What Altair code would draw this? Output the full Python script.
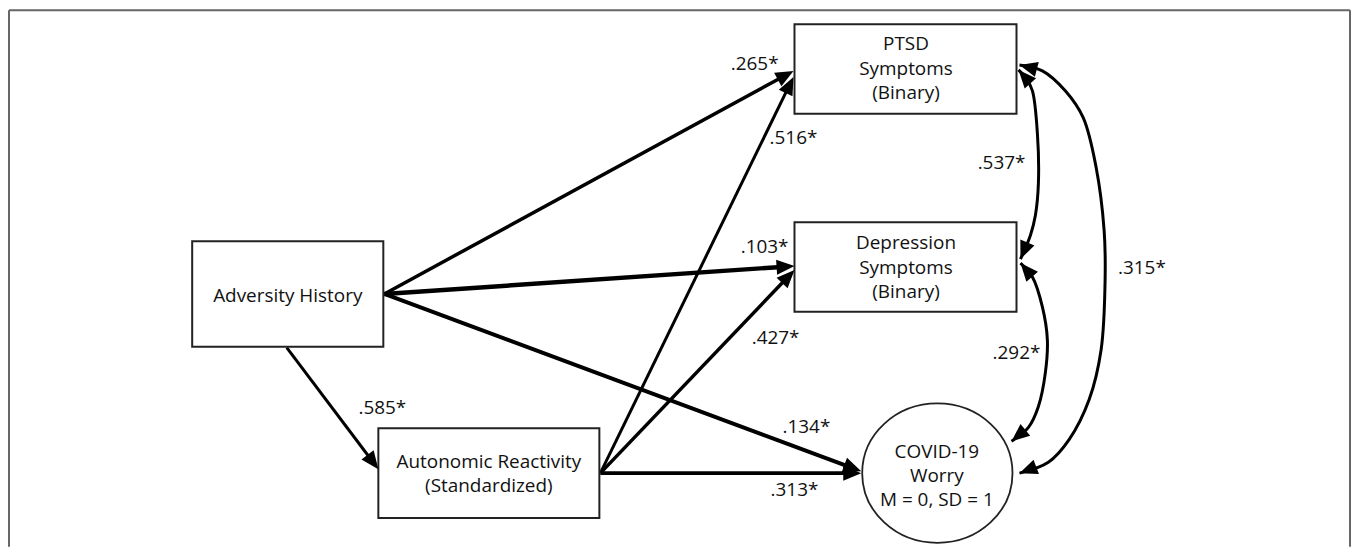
import altair as alt
import pandas as pd
import numpy as np

# ---------------- data (page pixel positions of the diagram) ----------------
# rectangular nodes
box_x0 = [193, 380, 798, 798]
box_x1 = [385, 602, 1021, 1021]
box_y0 = [241, 429, 23, 222]
box_y1 = [347, 519, 113, 312]

# elliptical node (COVID-19 Worry)
ell_cx = [941.5]
ell_cy = [474]
ell_rx = 75.5
ell_ry = 70

# node text lines
node_text = ["Adversity History",
             "Autonomic Reactivity", "(Standardized)",
             "PTSD", "Symptoms", "(Binary)",
             "Depression", "Symptoms", "(Binary)",
             "COVID-19", "Worry", "M = 0, SD = 1"]
node_tx = [289, 491, 491, 910, 910, 910, 910, 910, 910, 941, 941, 941]
node_ty = [296, 463, 487, 43, 68, 92, 243, 268, 292, 453, 477, 501]

# straight directed paths
edge_x0 = [386, 386, 386, 288, 603, 603, 603]
edge_y0 = [294, 294, 294, 348, 474, 474, 474]
edge_x1 = [797, 798, 865, 380, 797, 798, 865]
edge_y1 = [70, 266, 472, 470, 76, 270, 474]
edge_w = [3.5, 4.5, 4, 3, 3, 3.5, 4]

# path coefficients
coef_text = [".265*", ".516*", ".537*", ".103*", ".315*", ".427*",
             ".292*", ".585*", ".134*", ".313*"]
coef_x = [758, 797, 1006, 768, 1147, 779, 1021, 384, 810, 798]
coef_y = [63, 137, 163, 247, 268, 338, 353, 409, 428, 491]

# curved (two-headed) correlation paths
curve_537_x = [1023, 1031, 1037, 1042, 1043, 1040, 1035, 1025]
curve_537_y = [69, 78, 90, 133, 183, 215, 235, 259]
curve_292_x = [1025, 1037, 1047, 1052, 1050, 1043, 1033, 1016]
curve_292_y = [263, 277, 307, 340, 373, 407, 428, 442]
curve_315_x = [1024, 1047, 1070, 1088, 1101, 1109, 1110, 1106, 1094, 1074, 1053, 1024]
curve_315_y = [64, 70, 90, 117, 167, 230, 280, 350, 400, 440, 463, 474]

# outer frame (left, top, right)
frame_x0 = [9, 9, 1356]
frame_x1 = [9, 1356, 1356]
frame_y0 = [9, 9, 9]
frame_y1 = [548, 9, 548]

# ---------------- chart ----------------
W, H = 1350, 540
xs = alt.Scale(domain=[8, 8 + W], nice=False, zero=False)
ys = alt.Scale(domain=[8, 8 + H], nice=False, zero=False, reverse=True)
INK = "#000000"
FONT = "Open Sans"
FS = 19
ARROW = "M0,-1L0.85,1L-0.85,1Z"
AH = 18  # arrowhead length in px
ELL = "M-1,0A1,{r},0,1,1,1,0A1,{r},0,1,1,-1,0Z".format(r=round(ell_ry / ell_rx, 4))


def X(f="x"):
    return alt.X(f + ":Q", scale=xs, axis=None)


def Y(f="y"):
    return alt.Y(f + ":Q", scale=ys, axis=None)


# arrowheads
heads = []
edges = []
for i in range(len(edge_x0)):
    dx, dy = edge_x1[i] - edge_x0[i], edge_y1[i] - edge_y0[i]
    L = np.hypot(dx, dy)
    ux, uy = dx / L, dy / L
    cx, cy = edge_x1[i] - ux * AH / 2, edge_y1[i] - uy * AH / 2
    heads.append({"x": cx, "y": cy, "angle": float(np.degrees(np.arctan2(dx, -dy)) % 360)})
    edges.append({"x": edge_x0[i], "y": edge_y0[i], "x2": cx, "y2": cy, "w": edge_w[i]})

curve_rows = []
for cid, (cxs, cys) in enumerate([(curve_537_x, curve_537_y),
                                  (curve_292_x, curve_292_y),
                                  (curve_315_x, curve_315_y)]):
    for j, (a, b) in enumerate(zip(cxs, cys)):
        curve_rows.append({"id": cid, "i": j, "x": a, "y": b})
    for (p0, p1) in [(0, 1), (len(cxs) - 1, len(cxs) - 2)]:
        dx, dy = cxs[p0] - cxs[p1], cys[p0] - cys[p1]
        L = np.hypot(dx, dy)
        heads.append({"x": cxs[p0] - dx / L * AH / 2, "y": cys[p0] - dy / L * AH / 2,
                      "angle": float(np.degrees(np.arctan2(dx, -dy)) % 360)})

frame = alt.Chart(pd.DataFrame({"x": frame_x0, "x2": frame_x1, "y": frame_y0, "y2": frame_y1})).mark_rule(
    color="#666666", strokeWidth=2).encode(x=X(), x2="x2:Q", y=Y(), y2="y2:Q")

edge_layer = alt.Chart(pd.DataFrame(edges)).mark_rule(color=INK, strokeCap="butt").encode(
    x=X(), x2="x2:Q", y=Y(), y2="y2:Q", strokeWidth=alt.StrokeWidth("w:Q", scale=None))

curve_layer = alt.Chart(pd.DataFrame(curve_rows)).mark_line(
    color=INK, strokeWidth=3, interpolate="catmull-rom").encode(
    x=X(), y=Y(), detail="id:N", order="i:Q")

boxes = alt.Chart(pd.DataFrame({"x": box_x0, "x2": box_x1, "y": box_y0, "y2": box_y1})).mark_rect(
    fill="white", stroke="#222222", strokeWidth=2).encode(x=X(), x2="x2:Q", y=Y(), y2="y2:Q")

ellipse = alt.Chart(pd.DataFrame({"x": ell_cx, "y": ell_cy})).mark_point(
    shape=ELL, size=(2 * ell_rx) ** 2, filled=True, fill="white", stroke="#222222",
    strokeWidth=1.8, opacity=1).encode(x=X(), y=Y())

head_layer = alt.Chart(pd.DataFrame(heads)).mark_point(
    shape=ARROW, size=AH ** 2, filled=True, color="#000000", opacity=1, strokeWidth=0).encode(
    x=X(), y=Y(), angle=alt.Angle("angle:Q", scale=None))

node_labels = alt.Chart(pd.DataFrame({"x": node_tx, "y": node_ty, "t": node_text})).mark_text(
    font=FONT, fontSize=FS, align="center", baseline="middle", color="#111111").encode(
    x=X(), y=Y(), text="t:N")

coef_labels = alt.Chart(pd.DataFrame({"x": coef_x, "y": coef_y, "t": coef_text})).mark_text(
    font=FONT, fontSize=FS, align="center", baseline="middle", color="#111111").encode(
    x=X(), y=Y(), text="t:N")

chart = alt.layer(frame, edge_layer, curve_layer, boxes, ellipse, head_layer,
                  node_labels, coef_labels).properties(
    width=W, height=H, padding=0, autosize=alt.AutoSizeParams(type="none"),
    background="white"
).configure_view(stroke=None)

chart.save("out.html", embed_options={"renderer": "svg", "actions": False})
